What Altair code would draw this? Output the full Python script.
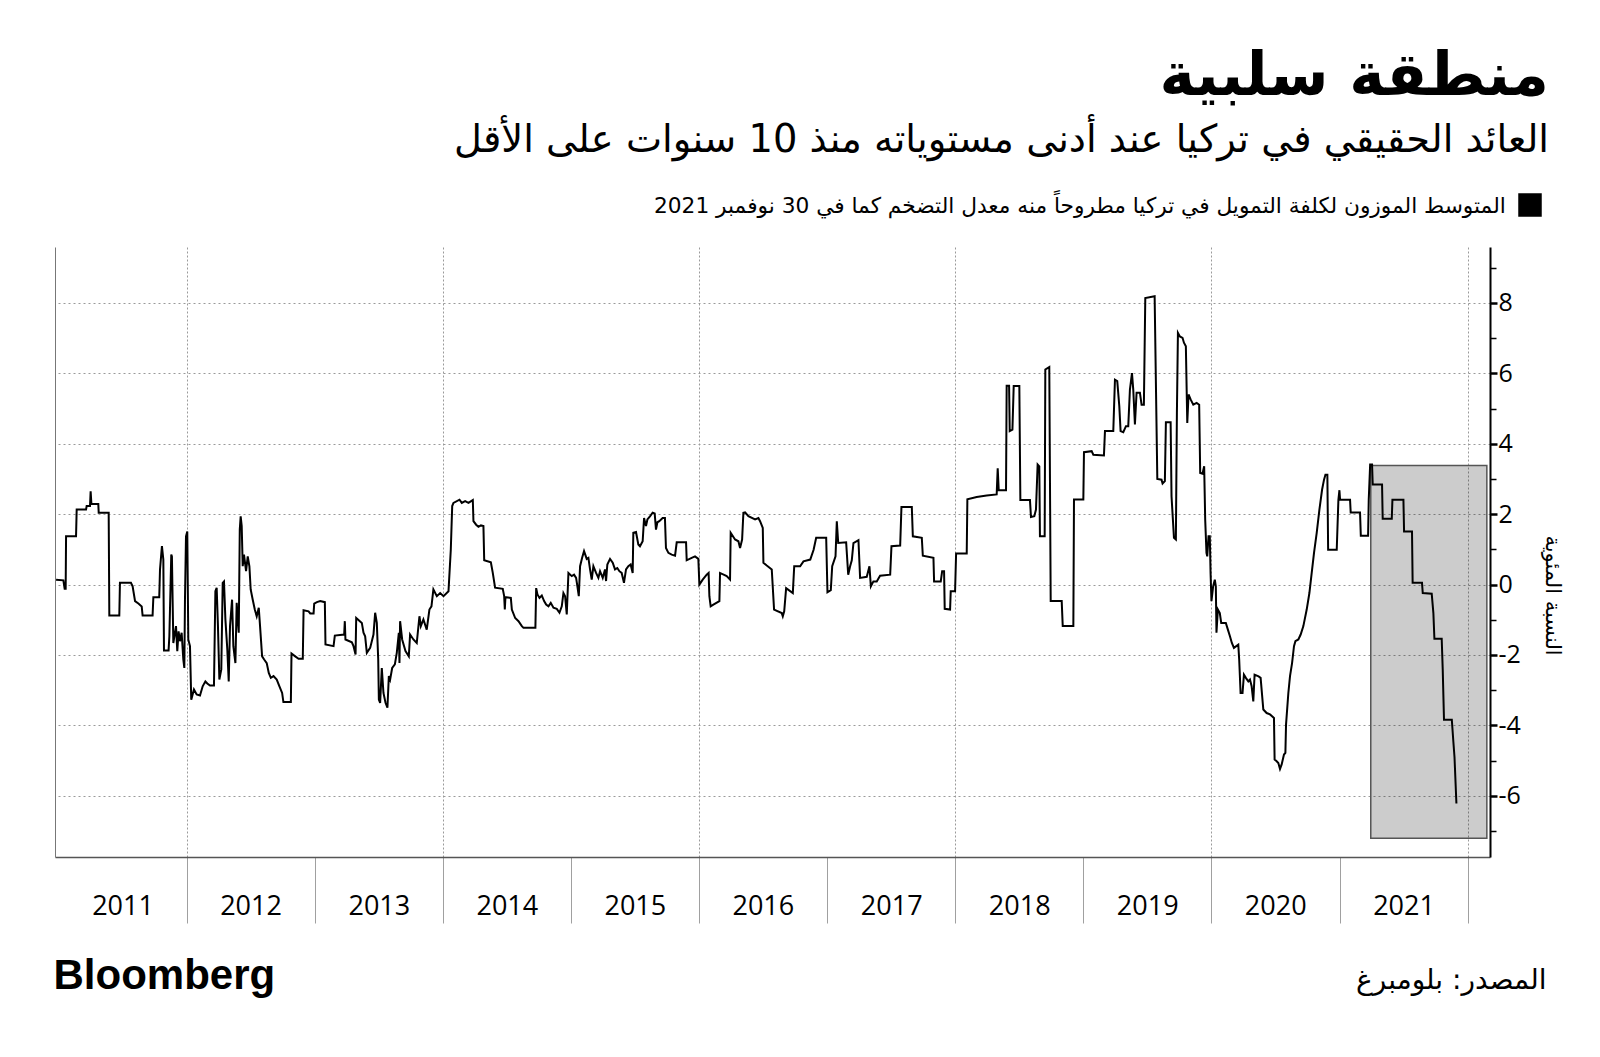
import altair as alt
import pandas as pd

# ---------------- text ----------------
TITLE = "منطقة سلبية"
SUBTITLE = "العائد الحقيقي في تركيا عند أدنى مستوياته منذ 10 سنوات على الأقل"
LEGEND = "المتوسط الموزون لكلفة التمويل في تركيا مطروحاً منه معدل التضخم كما في 30 نوفمبر 2021"
Y_TITLE = "النسبة المئوية"
SOURCE = "المصدر: بلومبرغ"
BRAND = "Bloomberg"

# ---------------- data (decimal year, percent) ----------------
pts_2011 = [(2010.981, 0.14), (2011.038, 0.12), (2011.048, -0.12), (2011.056, -0.12), (2011.059, 1.37),
            (2011.137, 1.37), (2011.142, 2.13), (2011.215, 2.13), (2011.220, 2.23), (2011.246, 2.23),
            (2011.251, 2.65), (2011.257, 2.29), (2011.311, 2.29), (2011.314, 2.04), (2011.392, 2.04),
            (2011.397, -0.88), (2011.475, -0.88), (2011.480, 0.05), (2011.566, 0.05), (2011.579, -0.05),
            (2011.598, -0.47), (2011.624, -0.54), (2011.650, -0.62), (2011.657, -0.88), (2011.735, -0.88),
            (2011.741, -0.36), (2011.787, -0.36), (2011.793, 0.43), (2011.808, 1.09), (2011.819, 0.71),
            (2011.824, -1.87), (2011.860, -1.87), (2011.866, -1.47), (2011.881, 0.85), (2011.886, 0.80),
            (2011.897, -1.66), (2011.918, -1.18), (2011.928, -1.89), (2011.938, -1.33), (2011.949, -1.61),
            (2011.962, -1.37), (2011.975, -2.13), (2011.983, -2.37), (2011.988, -0.43), (2011.996, 1.37)]
pts_2012 = [(2012.006, 1.51), (2012.014, -1.56), (2012.027, -1.75), (2012.037, -3.27), (2012.058, -2.98),
            (2012.079, -3.12), (2012.105, -3.15), (2012.126, -2.89), (2012.147, -2.75), (2012.162, -2.81),
            (2012.183, -2.87), (2012.214, -2.87), (2012.225, -0.19), (2012.235, -0.09), (2012.245, -1.18),
            (2012.256, -2.70), (2012.271, -2.41), (2012.282, 0.05), (2012.292, 0.09), (2012.303, -0.99),
            (2012.318, -1.85), (2012.329, -2.75), (2012.339, -1.18), (2012.355, -0.43), (2012.365, -1.75),
            (2012.381, -2.23), (2012.391, -0.52), (2012.407, -1.37), (2012.415, 1.56), (2012.422, 1.94),
            (2012.430, 1.66), (2012.438, 0.52), (2012.448, 0.85), (2012.464, 0.38), (2012.477, 0.80),
            (2012.490, 0.52), (2012.500, -0.14), (2012.516, -0.43), (2012.532, -0.71), (2012.547, -0.90),
            (2012.563, -0.66), (2012.573, -1.18), (2012.589, -2.04), (2012.605, -2.13), (2012.625, -2.23),
            (2012.641, -2.51), (2012.657, -2.65), (2012.678, -2.60), (2012.703, -2.70), (2012.724, -2.89),
            (2012.745, -3.08), (2012.755, -3.34), (2012.813, -3.34), (2012.818, -1.96), (2012.847, -2.04),
            (2012.873, -2.11), (2012.906, -2.11), (2012.912, -0.73), (2012.951, -0.76), (2012.964, -0.82),
            (2012.990, -0.82), (2012.995, -0.54)]
pts_2013 = [(2013.016, -0.50), (2013.042, -0.47), (2013.078, -0.50), (2013.083, -1.70), (2013.146, -1.75),
            (2013.156, -1.45), (2013.229, -1.42), (2013.234, -1.04), (2013.239, -1.56), (2013.289, -1.64),
            (2013.302, -1.75), (2013.318, -1.99), (2013.323, -0.95), (2013.367, -1.09), (2013.380, -1.37),
            (2013.393, -1.47), (2013.406, -1.94), (2013.432, -1.80), (2013.458, -1.42), (2013.471, -0.80),
            (2013.484, -1.09), (2013.495, -2.13), (2013.500, -3.27), (2013.510, -3.36), (2013.523, -2.37),
            (2013.536, -3.08), (2013.552, -3.36), (2013.567, -3.50), (2013.578, -2.60), (2013.588, -2.70),
            (2013.604, -2.37), (2013.625, -2.27), (2013.640, -1.94), (2013.656, -1.37), (2013.661, -2.23),
            (2013.666, -1.04), (2013.682, -1.56), (2013.708, -1.89), (2013.734, -2.04), (2013.744, -1.42),
            (2013.770, -1.56), (2013.796, -1.66), (2013.817, -0.90), (2013.828, -1.18), (2013.848, -0.99),
            (2013.874, -1.28), (2013.895, -0.71), (2013.911, -0.62), (2013.926, -0.14), (2013.953, -0.33),
            (2013.979, -0.24)]
pts_2014 = [(2014.005, -0.33), (2014.044, -0.19), (2014.062, 0.99), (2014.073, 2.23), (2014.083, 2.32),
            (2014.130, 2.41), (2014.148, 2.32), (2014.174, 2.37), (2014.200, 2.32), (2014.234, 2.40),
            (2014.239, 1.80), (2014.260, 1.70), (2014.278, 1.64), (2014.297, 1.68), (2014.317, 1.66),
            (2014.323, 0.69), (2014.375, 0.63), (2014.390, 0.33), (2014.408, -0.09), (2014.468, -0.12),
            (2014.479, -0.33), (2014.484, -0.71), (2014.489, -0.36), (2014.531, -0.38), (2014.539, -0.71),
            (2014.565, -0.95), (2014.591, -1.04), (2014.617, -1.18), (2014.630, -1.23), (2014.723, -1.23),
            (2014.729, -0.10), (2014.739, -0.28), (2014.755, -0.38), (2014.773, -0.31), (2014.791, -0.47),
            (2014.807, -0.57), (2014.825, -0.62), (2014.843, -0.52), (2014.864, -0.66), (2014.890, -0.69),
            (2014.911, -0.80), (2014.929, -0.62), (2014.942, -0.24), (2014.955, -0.33), (2014.968, -0.85),
            (2014.981, 0.33)]
pts_2015 = [(2015.007, 0.24), (2015.025, 0.28), (2015.041, 0.19), (2015.051, -0.05), (2015.062, -0.33),
            (2015.072, 0.52), (2015.088, 0.76), (2015.103, 0.95), (2015.124, 0.73), (2015.137, 0.76),
            (2015.150, 0.43), (2015.163, 0.14), (2015.176, 0.52), (2015.197, 0.33), (2015.215, 0.19),
            (2015.228, 0.38), (2015.249, 0.19), (2015.267, 0.43), (2015.275, 0.10), (2015.285, 0.57),
            (2015.306, 0.73), (2015.327, 0.62), (2015.345, 0.43), (2015.363, 0.47), (2015.379, 0.38),
            (2015.397, 0.33), (2015.415, 0.05), (2015.431, 0.43), (2015.449, 0.52), (2015.467, 0.57),
            (2015.483, 0.33), (2015.488, 1.47), (2015.509, 1.49), (2015.527, 1.14), (2015.540, 1.09),
            (2015.561, 1.23), (2015.572, 1.89), (2015.587, 1.66), (2015.598, 1.85), (2015.618, 1.94),
            (2015.639, 2.04), (2015.655, 2.02), (2015.665, 1.56), (2015.676, 1.77), (2015.691, 1.80),
            (2015.717, 1.89), (2015.735, 1.89), (2015.743, 1.04), (2015.762, 0.90), (2015.788, 0.85),
            (2015.814, 0.82), (2015.827, 1.20), (2015.900, 1.20), (2015.905, 0.69), (2015.944, 0.76),
            (2015.970, 0.80), (2015.996, 0.73)]
pts_2016 = [(2016.004, 0.00), (2016.030, 0.14), (2016.061, 0.28), (2016.076, 0.33), (2016.082, -0.33),
            (2016.092, -0.62), (2016.113, -0.57), (2016.160, -0.47), (2016.165, 0.33), (2016.217, 0.24),
            (2016.243, 0.14), (2016.248, 1.47), (2016.282, 1.28), (2016.308, 1.23), (2016.321, 1.04),
            (2016.337, 1.28), (2016.347, 2.04), (2016.360, 2.05), (2016.386, 1.94), (2016.438, 1.85),
            (2016.464, 1.89), (2016.477, 1.80), (2016.498, 1.61), (2016.503, 0.62), (2016.529, 0.54),
            (2016.568, 0.43), (2016.586, -0.71), (2016.646, -0.81), (2016.654, -0.90), (2016.665, -0.76),
            (2016.680, -0.10), (2016.732, -0.24), (2016.743, 0.52), (2016.789, 0.52), (2016.815, 0.66),
            (2016.868, 0.71), (2016.894, 0.99), (2016.914, 1.33), (2016.992, 1.33)]
pts_2017 = [(2017.002, -0.22), (2017.028, -0.16), (2017.039, 0.52), (2017.065, 0.80), (2017.075, 1.80),
            (2017.086, 1.18), (2017.148, 1.20), (2017.164, 0.28), (2017.179, 0.52), (2017.192, 0.69),
            (2017.205, 1.18), (2017.244, 1.26), (2017.257, 0.19), (2017.309, 0.22), (2017.330, 0.52),
            (2017.341, -0.05), (2017.361, 0.09), (2017.387, 0.09), (2017.413, 0.25), (2017.492, 0.28),
            (2017.502, 1.09), (2017.570, 1.11), (2017.580, 2.20), (2017.661, 2.20), (2017.669, 1.37),
            (2017.739, 1.33), (2017.747, 0.82), (2017.830, 0.76), (2017.835, 0.09), (2017.887, 0.09),
            (2017.898, 0.38), (2017.913, 0.38), (2017.918, -0.69), (2017.960, -0.71), (2017.965, -0.19),
            (2017.999, -0.19)]
pts_2018 = [(2018.007, 0.88), (2018.090, 0.88), (2018.095, 2.42), (2018.168, 2.49), (2018.246, 2.53),
            (2018.324, 2.56), (2018.332, 3.30), (2018.340, 2.68), (2018.397, 2.68), (2018.402, 5.65),
            (2018.421, 5.65), (2018.426, 4.36), (2018.447, 4.40), (2018.457, 5.64), (2018.501, 5.64),
            (2018.509, 2.40), (2018.584, 2.40), (2018.592, 1.92), (2018.618, 1.94), (2018.631, 2.13),
            (2018.644, 3.41), (2018.657, 3.36), (2018.662, 1.37), (2018.699, 1.37), (2018.704, 6.11),
            (2018.735, 6.18), (2018.746, -0.47), (2018.832, -0.47), (2018.840, -1.18), (2018.923, -1.18),
            (2018.928, 2.42)]
pts_2019 = [(2019.001, 2.42), (2019.006, 3.76), (2019.066, 3.79), (2019.079, 3.69), (2019.162, 3.67),
            (2019.170, 4.36), (2019.235, 4.36), (2019.248, 5.82), (2019.266, 5.78), (2019.282, 5.07),
            (2019.292, 4.36), (2019.313, 4.33), (2019.334, 4.50), (2019.352, 4.50), (2019.365, 5.54),
            (2019.381, 6.01), (2019.391, 5.54), (2019.404, 4.55), (2019.417, 5.45), (2019.443, 5.45),
            (2019.456, 5.11), (2019.474, 5.11), (2019.485, 8.14), (2019.558, 8.19), (2019.579, 3.00),
            (2019.612, 2.98), (2019.620, 2.87), (2019.638, 2.94), (2019.646, 4.61), (2019.683, 4.61),
            (2019.690, 2.51), (2019.709, 1.33), (2019.724, 1.28), (2019.732, 4.88), (2019.740, 7.15),
            (2019.755, 7.05), (2019.776, 7.01), (2019.787, 6.87), (2019.802, 6.77), (2019.813, 4.59),
            (2019.823, 5.40), (2019.839, 5.26), (2019.860, 5.11), (2019.886, 5.16), (2019.906, 5.11),
            (2019.914, 3.17), (2019.932, 3.15), (2019.945, 3.36), (2019.953, 1.85), (2019.963, 0.90),
            (2019.969, 0.80), (2019.979, 1.37), (2019.989, 1.37), (2019.995, 0.33)]
pts_2020 = [(2020.002, -0.47), (2020.015, -0.05), (2020.028, 0.14), (2020.036, -0.05), (2020.041, -1.37),
            (2020.052, -0.71), (2020.067, -0.81), (2020.078, -1.09), (2020.114, -1.09), (2020.130, -1.28),
            (2020.146, -1.47), (2020.161, -1.66), (2020.177, -1.80), (2020.211, -1.71), (2020.218, -2.13),
            (2020.229, -3.08), (2020.244, -3.08), (2020.255, -2.56), (2020.270, -2.65), (2020.289, -2.75),
            (2020.302, -2.70), (2020.315, -2.89), (2020.328, -3.32), (2020.338, -2.56), (2020.369, -2.61),
            (2020.385, -2.65), (2020.406, -3.55), (2020.432, -3.65), (2020.458, -3.69), (2020.489, -3.79),
            (2020.494, -4.97), (2020.510, -5.02), (2020.523, -5.07), (2020.536, -5.24), (2020.549, -5.11),
            (2020.567, -4.83), (2020.578, -4.78), (2020.583, -3.98), (2020.601, -3.08), (2020.614, -2.60),
            (2020.630, -2.23), (2020.645, -1.75), (2020.656, -1.61), (2020.679, -1.56), (2020.697, -1.42),
            (2020.718, -1.18), (2020.744, -0.71), (2020.765, -0.24), (2020.783, 0.33), (2020.801, 0.90),
            (2020.822, 1.47), (2020.843, 2.13), (2020.864, 2.70), (2020.879, 2.98), (2020.890, 3.12),
            (2020.905, 3.12), (2020.911, 0.99), (2020.978, 0.99), (2020.991, 2.41), (2020.999, 2.68)]
pts_2021 = [(2021.004, 2.41), (2021.082, 2.41), (2021.087, 2.05), (2021.160, 2.05), (2021.166, 1.39),
            (2021.223, 1.39), (2021.228, 2.41), (2021.239, 3.41), (2021.254, 3.41), (2021.259, 2.84),
            (2021.332, 2.84), (2021.337, 1.87), (2021.408, 1.87), (2021.413, 2.41), (2021.499, 2.41),
            (2021.504, 1.51), (2021.566, 1.51), (2021.571, 0.05), (2021.644, 0.05), (2021.650, -0.24),
            (2021.720, -0.26), (2021.733, -0.81), (2021.741, -1.54), (2021.798, -1.54), (2021.806, -2.41),
            (2021.816, -3.84), (2021.877, -3.84), (2021.889, -4.46), (2021.898, -4.90), (2021.913, -6.22)]

series_by_year = [pts_2011, pts_2012, pts_2013, pts_2014, pts_2015, pts_2016,
                  pts_2017, pts_2018, pts_2019, pts_2020, pts_2021]

tick_years = list(range(2011, 2023))
y_major = [-6, -4, -2, 0, 2, 4, 6, 8]
y_minor = [-7, -5, -3, -1, 1, 3, 5, 7, 9]
shade_start = "2021-03-31T00:00:00"
shade_end = "2022-02-25T00:00:00"
shade_top = 3.38
shade_bottom = -7.21


def dec_to_iso(t):
    y = int(t)
    start = pd.Timestamp(year=y, month=1, day=1)
    end = pd.Timestamp(year=y + 1, month=1, day=1)
    return (start + (end - start) * (t - y)).strftime("%Y-%m-%dT%H:%M:%S")


rows = []
for pts in series_by_year:
    for t, v in pts:
        rows.append({"date": dec_to_iso(t), "value": v, "series": LEGEND})
line_df = pd.DataFrame(rows)
rect_df = pd.DataFrame([{"start": shade_start, "end": shade_end, "top": shade_top, "bottom": shade_bottom}])

AR_FONT = "DejaVu Sans"
NUM_FONT = "Open Sans"

x_scale = alt.Scale(domain=[alt.DateTime(year=2010, month=12, date=22),
                            alt.DateTime(year=2022, month=3, date=6)])
y_scale = alt.Scale(domain=[-7.74, 9.59], nice=False, zero=False)

x_axis = alt.Axis(
    values=[alt.DateTime(year=y, month=1, date=1) for y in tick_years],
    labelExpr="year(datum.value) == 2022 ? '' : timeFormat(datum.value, '%Y')",
    labelOffset=64, labelFlush=False, labelOverlap=False, labelBound=False,
    labelAlign="center", labelBaseline="middle", labelPadding=-17,
    labelFont=NUM_FONT, labelFontSize=27, labelColor="black",
    tickSize=66, tickColor="#a0a0a0", tickWidth=1,
    tickOpacity={"condition": {"test": "year(datum.value) == 2011", "value": 0}, "value": 1},
    grid=True, gridDash=[2, 2], gridColor="#9a9a9a", gridWidth=1,
    gridOpacity={"condition": {"test": "year(datum.value) % 2 == 1", "value": 0}, "value": 1},
    domainColor="#555555", domainWidth=1.5,
    title=SOURCE, titleFont=AR_FONT, titleFontSize=28, titleFontWeight="normal", titleColor="black",
    titleAlign="right", titleBaseline="alphabetic", titleAngle=0, titleX=1491, titleY=131,
)

left_axis = alt.Axis(
    orient="left", ticks=False, labels=False, grid=False,
    domainColor="#777777", domainWidth=1,
    title=BRAND, titleFont="Liberation Sans", titleFontSize=42, titleFontWeight="bold",
    titleColor="black", titleAngle=0, titleAlign="left", titleBaseline="alphabetic",
    titleX=-2, titleY=741,
)

right_axis = alt.Axis(
    orient="right", values=y_major, labelExpr="'' + datum.value",
    tickSize=7, tickWidth=2.5, tickColor="black",
    labelFont=NUM_FONT, labelFontSize=25, labelColor="black", labelPadding=1,
    labelBaseline="middle", labelAlign="left",
    grid=True, gridDash=[2, 3], gridColor="#9a9a9a", gridWidth=1,
    domainColor="black", domainWidth=2,
    title=Y_TITLE, titleFont=AR_FONT, titleFontSize=21, titleFontWeight="normal", titleColor="black",
    titleAngle=90, titleAlign="center", titleBaseline="middle", titleX=61, titleY=348,
)

minor_axis = alt.Axis(
    orient="right", values=y_minor, labels=False, grid=False, domain=False,
    tickSize=6, tickWidth=1.5, tickColor="black", title=None,
)

shade = alt.Chart(rect_df).mark_rect(
    fill="black", fillOpacity=0.2, stroke="#555555", strokeWidth=1.5
).encode(
    x=alt.X("start:T", scale=x_scale, axis=x_axis),
    x2="end:T",
    y=alt.Y("top:Q", scale=y_scale, axis=left_axis),
    y2="bottom:Q",
)

line = alt.Chart(line_df).mark_line(strokeWidth=2).encode(
    x=alt.X("date:T", scale=x_scale, axis=x_axis),
    y=alt.Y("value:Q", scale=y_scale, axis=right_axis),
    color=alt.Color("series:N", scale=alt.Scale(range=["black"]), legend=alt.Legend(
        title=LEGEND, titleOrient="left", titlePadding=12, titleLimit=1500,
        titleFont=AR_FONT, titleFontSize=21.7, titleFontWeight="normal", titleColor="black",
        orient="top-right", offset=-54, padding=0,
        symbolType="square", symbolSize=484, symbolFillColor="black",
        labelExpr="''", labelOffset=0,
    )),
)

minor = alt.Chart(rect_df).mark_rect(opacity=0).encode(
    x=alt.X("start:T", scale=x_scale, axis=x_axis),
    x2="end:T",
    y=alt.Y("top:Q", scale=y_scale, axis=minor_axis),
    y2="bottom:Q",
)

chart = alt.layer(shade, line, minor).resolve_axis(y="independent").properties(
    width=1435, height=610,
    padding={"left": 47, "top": 239, "right": 95, "bottom": 180},
    autosize=alt.AutoSizeParams(type="none"),
    background="white",
    title=alt.Title(
        TITLE, subtitle=[SUBTITLE], orient="top", anchor="end", frame="group", dx=59, offset=33,
        font=AR_FONT, fontSize=60, fontWeight="bold", color="black",
        subtitleFont=AR_FONT, subtitleFontSize=38.4, subtitleColor="black", subtitlePadding=14,
    ),
).configure_view(stroke=None)

chart.save("out.html", embed_options={"renderer": "svg", "actions": False})
